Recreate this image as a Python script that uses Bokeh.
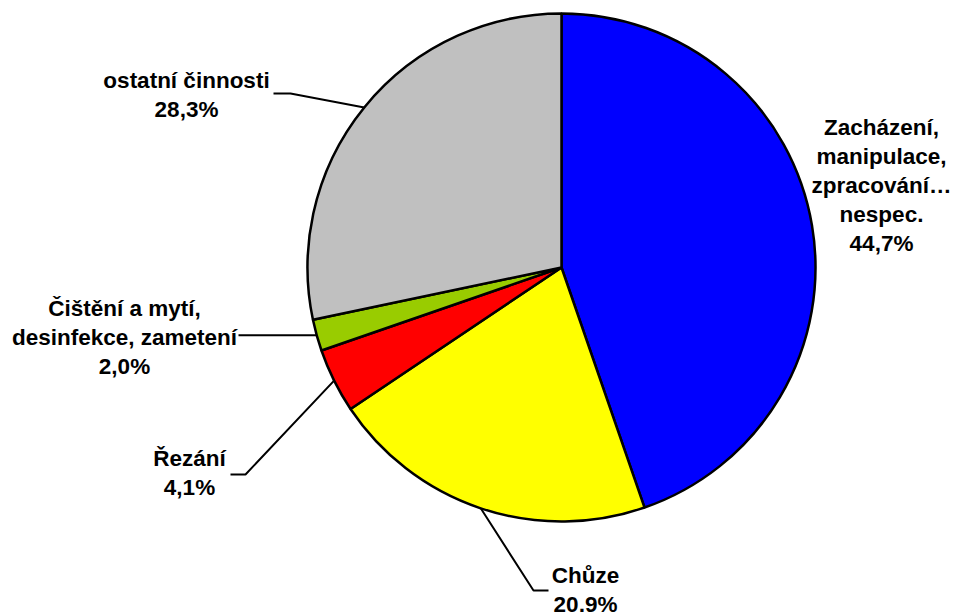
import math
from bokeh.plotting import figure
from bokeh.models import Range1d
from bokeh.core.properties import value
from bokeh.embed import file_html
from bokeh.resources import INLINE

# ---- data ----
categories = ["Zacházení,\nmanipulace,\nzpracování…\nnespec.",
              "Chůze",
              "Řezání",
              "Čištění a mytí,\ndesinfekce, zametení",
              "ostatní činnosti"]
shares = [44.7, 20.9, 4.1, 2.0, 28.3]
share_labels = ["44,7%", "20,9%", "4,1%", "2,0%", "28,3%"]
colors = ["#0000FF", "#FFFF00", "#FF0000", "#99CC00", "#C0C0C0"]

# ---- layout (window pixel coordinates) ----
W, H = 954, 612
def X(px): return px
def Y(py): return H - py

cx, cy, R = 561, 267, 254
label_pos = [(881, 127), (585, 575), (189, 458), (124, 308), (186, 80)]
# leader line points after the pie edge (None = no leader)
leaders = [None,
           [(533, 590), (548, 590)],
           [(245, 474), (230, 474)],
           [(238, None)],
           [(290, 93), (273, 93)]]
line_h = 29

p = figure(width=W, height=H, output_backend="svg", toolbar_location=None,
           x_range=Range1d(0, W), y_range=Range1d(0, H),
           min_border=0, outline_line_color=None)
p.axis.visible = False
p.grid.visible = False

total = sum(shares)
start = 90.0
starts, ends, mids = [], [], []
for s in shares:
    sweep = s / total * 360.0
    starts.append(math.radians(start))
    ends.append(math.radians(start - sweep))
    mids.append(math.radians(start - sweep / 2))
    start -= sweep

p.wedge(x=[X(cx)] * len(shares), y=[Y(cy)] * len(shares), radius=R,
        start_angle=starts, end_angle=ends, direction="clock",
        fill_color=colors, line_color="black", line_width=2.5)

# leader lines
for i, pts in enumerate(leaders):
    if pts is None:
        continue
    ex = X(cx) + R * math.cos(mids[i])
    ey = Y(cy) + R * math.sin(mids[i])
    xs, ys = [ex], [ey]
    for (px, py) in pts:
        xs.append(X(px))
        ys.append(ey if py is None else Y(py))
    p.line(xs, ys, line_color="black", line_width=2)

# labels
tx, ty, tt = [], [], []
for i, cat in enumerate(categories):
    lines = cat.split("\n") + [share_labels[i]]
    lx, ly = label_pos[i]
    for k, ln in enumerate(lines):
        tx.append(X(lx))
        ty.append(Y(ly + k * line_h))
        tt.append(ln)
p.text(x=tx, y=ty, text=tt, text_font=value("Liberation Sans"),
       text_font_style="bold", text_font_size="22.5px",
       text_align="center", text_baseline="middle", text_color="black")

open("out.html", "w").write(file_html(p, INLINE))
